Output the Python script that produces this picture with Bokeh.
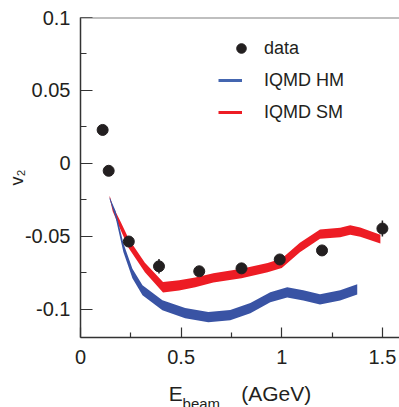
from bokeh.plotting import figure
from bokeh.models import (Range1d, FixedTicker, PrintfTickFormatter, Span, Label,
                          Legend, LegendItem, ColumnDataSource)
from bokeh.embed import file_html
from bokeh.resources import INLINE

# ---- data ----
data_x = [0.11, 0.14, 0.24, 0.39, 0.59, 0.80, 0.99, 1.20, 1.50]
data_y = [0.0229, -0.0051, -0.0536, -0.0706, -0.0740, -0.0720, -0.0659, -0.0597, -0.0447]
data_err = [0.002, 0.002, 0.003, 0.005, 0.003, 0.003, 0.003, 0.003, 0.0055]

# IQMD SM (red band): lower / upper edges
sm_x = [0.145, 0.16, 0.20, 0.24, 0.32, 0.41, 0.49, 0.57, 0.66, 0.80, 0.93, 1.00,
        1.09, 1.19, 1.29, 1.34, 1.39, 1.49]
sm_lo = [-0.0238, -0.0328, -0.0458, -0.0582, -0.0747, -0.0886, -0.0872, -0.0849,
         -0.0817, -0.0787, -0.0747, -0.0717, -0.0609, -0.0517, -0.0506, -0.0489,
         -0.0504, -0.0550]
sm_hi = [-0.0222, -0.0292, -0.0402, -0.0518, -0.0681, -0.0814, -0.0802, -0.0783,
         -0.0753, -0.0723, -0.0683, -0.0653, -0.0545, -0.0453, -0.0442, -0.0425,
         -0.0440, -0.0490]

# IQMD HM (blue band): lower / upper edges
hm_x = [0.145, 0.174, 0.213, 0.258, 0.308, 0.407, 0.52, 0.635, 0.744, 0.844, 0.943,
        1.027, 1.107, 1.19, 1.29, 1.375]
hm_lo = [-0.0248, -0.0369, -0.0608, -0.0788, -0.0905, -0.1008, -0.1062, -0.1089,
         -0.1075, -0.1028, -0.0953, -0.0919, -0.0940, -0.0967, -0.0940, -0.0899]
hm_hi = [-0.0232, -0.0325, -0.0548, -0.0722, -0.0835, -0.0938, -0.0992, -0.1019,
         -0.1005, -0.0958, -0.0883, -0.0849, -0.0870, -0.0897, -0.0870, -0.0829]

x_ticks = [0, 0.5, 1, 1.5]
x_minor = [0.25, 0.75, 1.25]
y_ticks = [-0.1, -0.05, 0, 0.05, 0.1]
y_minor = [-0.075, -0.025, 0.025, 0.075]

legend_labels = ["data", "IQMD HM", "IQMD SM"]
x_title_main = "E" + "\u00a0" * 10 + "(AGeV)"
x_title_sub = "beam"
y_title = "v\u2082"

FONT = "Liberation Sans"
TXT = "#231f20"
RED = "#ed1c24"
BLUE = "#3953a4"

p = figure(width=399, height=407, output_backend="svg", toolbar_location=None,
           x_range=Range1d(0, 1.585), y_range=Range1d(-0.1194, 0.1),
           min_border_left=80, min_border_right=0, min_border_top=15,
           min_border_bottom=70)
p.outline_line_color = None
p.xgrid.visible = False
p.ygrid.visible = False
p.background_fill_color = "white"
p.border_fill_color = "white"

# bands
p.varea(x=sm_x, y1=sm_lo, y2=sm_hi, fill_color=RED)
p.varea(x=hm_x, y1=hm_lo, y2=hm_hi, fill_color=BLUE)

# data with error bars
src = ColumnDataSource(dict(x=data_x, y=data_y,
                            lo=[y - e for y, e in zip(data_y, data_err)],
                            hi=[y + e for y, e in zip(data_y, data_err)]))
p.segment(x0="x", y0="lo", x1="x", y1="hi", source=src, line_color=TXT, line_width=1.5)
pts = p.scatter(x="x", y="y", source=src, size=11, fill_color=TXT, line_color=TXT)

# legend proxies (draw nothing in the plot)
nan = float("nan")
hm_leg = p.line(x=[nan], y=[nan], line_color="#4466b0", line_width=3)
sm_leg = p.line(x=[nan], y=[nan], line_color=RED, line_width=3)

common = dict(padding=0, margin=0, border_line_color=None, background_fill_alpha=0,
              label_text_font=FONT, label_text_font_size="18px",
              label_text_color=TXT, glyph_width=24, glyph_height=26,
              label_height=26, spacing=6)
leg1 = Legend(items=[LegendItem(label=legend_labels[0], renderers=[pts])],
              location=(149, 276), label_standoff=11, **common)
leg2 = Legend(items=[LegendItem(label=legend_labels[1], renderers=[hm_leg]),
                     LegendItem(label=legend_labels[2], renderers=[sm_leg])],
              location=(138, 212), label_standoff=22, **common)
p.add_layout(leg1)
p.add_layout(leg2)

# top frame line
p.add_layout(Span(location=0.1, dimension="width", line_color="#808080", line_width=2))

# axes
for ax in (p.xaxis[0], p.yaxis[0]):
    ax.axis_line_color = "#333333"
    ax.axis_line_width = 1.5
    ax.major_tick_line_color = "#333333"
    ax.minor_tick_line_color = "#333333"
    ax.major_tick_line_width = 1.2
    ax.minor_tick_line_width = 1.2
    ax.major_tick_out = 0
    ax.minor_tick_out = 0
    ax.major_label_text_font = FONT
    ax.major_label_text_font_size = "20px"
    ax.major_label_text_color = TXT
    ax.formatter = PrintfTickFormatter(format="%g")
    ax.axis_label_text_font = FONT
    ax.axis_label_text_font_style = "normal"
    ax.axis_label_text_color = TXT

p.xaxis.ticker = FixedTicker(ticks=x_ticks, minor_ticks=x_minor)
p.yaxis.ticker = FixedTicker(ticks=y_ticks, minor_ticks=y_minor)
p.xaxis.major_tick_in = 10
p.xaxis.minor_tick_in = 5
p.xaxis.major_label_standoff = 12
p.yaxis.major_tick_in = 12
p.yaxis.minor_tick_in = 6
p.yaxis.major_label_standoff = 10

p.xaxis.axis_label = x_title_main
p.xaxis.axis_label_text_font_size = "21px"
p.xaxis.axis_label_standoff = 15
p.yaxis.axis_label = y_title
p.yaxis.axis_label_text_font_size = "18px"
p.yaxis.axis_label_standoff = -5

# subscript of the x title, in the (empty) top panel so it is not clipped
p.add_layout(Label(x=0.507, y=-0.1648, text=x_title_sub, text_font=FONT,
                   text_font_size="15px", text_color=TXT,
                   text_baseline="alphabetic"), "above")

open("out.html", "w").write(file_html(p, INLINE))
